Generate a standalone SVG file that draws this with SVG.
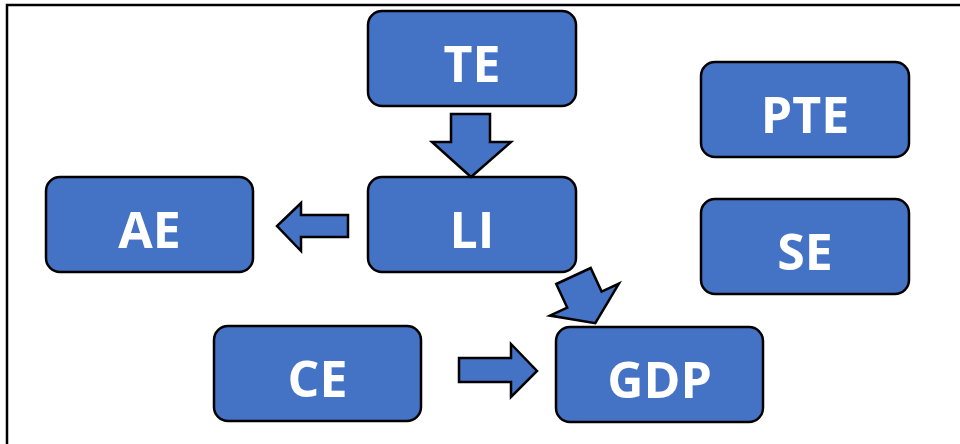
<svg xmlns="http://www.w3.org/2000/svg" width="960" height="444" viewBox="0 0 960 444">
<style>
.box{fill:#4472C4;stroke:#000;stroke-width:2.5}
.lbl{fill:#fff;font-family:"Open Sans","Liberation Sans",sans-serif;font-weight:bold;font-size:50px;text-anchor:middle}
.arr{fill:#4472C4;stroke:#000;stroke-width:2.5;stroke-linejoin:miter}
.frame{fill:none;stroke:#000;stroke-width:2.5}
</style>
<rect width="960" height="444" fill="#fff"/>
<path class="frame" d="M7,444 V5 H960"/>
<g id="TE"><rect class="box" x="368" y="11" width="208" height="95" rx="14"/><text class="lbl" x="472" y="82">TE</text></g>
<g id="PTE"><rect class="box" x="701" y="62" width="208" height="95" rx="14"/><text class="lbl" x="805" y="133">PTE</text></g>
<g id="AE"><rect class="box" x="46" y="177" width="207" height="95" rx="14"/><text class="lbl" x="149.5" y="248">AE</text></g>
<g id="LI"><rect class="box" x="368" y="177" width="208" height="95" rx="14"/><text class="lbl" x="472" y="248">LI</text></g>
<g id="SE"><rect class="box" x="701" y="199" width="208" height="95" rx="14"/><text class="lbl" x="805" y="270">SE</text></g>
<g id="CE"><rect class="box" x="214" y="326" width="207" height="95" rx="14"/><text class="lbl" x="317.5" y="397">CE</text></g>
<g id="GDP"><rect class="box" x="556" y="327" width="207" height="95" rx="14"/><text class="lbl" x="659.5" y="398">GDP</text></g>
<g id="connectors">
<polygon class="arr" points="451,114 490,114 490,142 511,142 471,177 432,142 451,142"/>
<polygon class="arr" points="348,215 348,237 301,237 301,251 277,226 301,203 301,215"/>
<polygon class="arr" points="459,358 511,358 511,344 537,371 511,397 511,382 459,382"/>
<polygon class="arr" points="556.3,284 590.7,268 601.6,291.6 618.9,283.6 595.3,323.2 549.9,315.6 567.2,307.6"/>
</g>
</svg>
